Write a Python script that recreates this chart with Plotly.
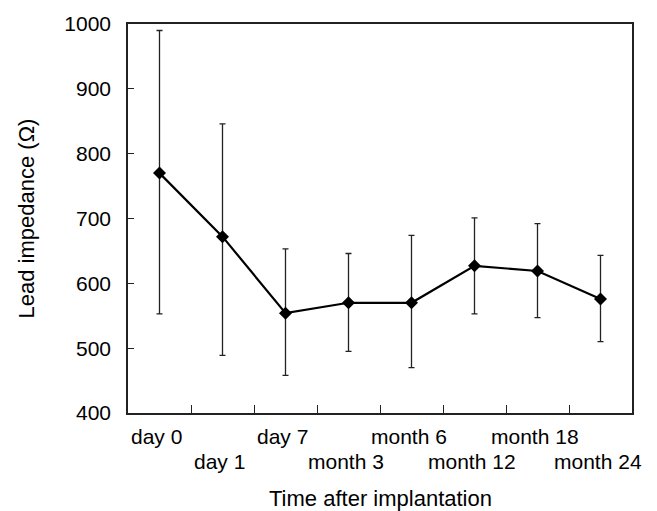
import plotly.graph_objects as go

categories = ["day 0", "day 1", "day 7", "month 3", "month 6", "month 12", "month 18", "month 24"]
means = [770, 672, 554, 570, 570, 627, 619, 576]
upper = [990, 846, 653, 646, 674, 701, 692, 643]
lower = [553, 489, 458, 495, 470, 553, 547, 510]
y_ticks = [400, 500, 600, 700, 800, 900, 1000]

err_plus = [u - m for u, m in zip(upper, means)]
err_minus = [m - l for m, l in zip(means, lower)]

FONT = "Liberation Sans, Arial, sans-serif"

fig = go.Figure()
fig.add_trace(go.Scatter(
    x=categories, y=means, mode="lines+markers",
    line=dict(color="black", width=2.2),
    marker=dict(symbol="diamond", size=10, color="black"),
    error_y=dict(type="data", symmetric=False, array=err_plus, arrayminus=err_minus,
                 color="#222222", thickness=1.3, width=3),
    showlegend=False,
))

# staggered category labels (two rows), placed under each category
for i, cat in enumerate(categories):
    fig.add_annotation(
        x=cat, xref="x", y=0, yref="paper",
        text=cat, showarrow=False, xanchor="center", yanchor="middle",
        yshift=-23 if i % 2 == 0 else -48, xshift=-3,
        font=dict(family=FONT, size=21, color="black"),
    )

# x axis title
fig.add_annotation(
    x=0.5, xref="paper", y=0, yref="paper",
    text="Time after implantation", showarrow=False,
    xanchor="center", yanchor="middle", yshift=-85,
    font=dict(family=FONT, size=22, color="black"),
)

fig.update_layout(
    width=657, height=511,
    margin=dict(l=128, r=25, t=24, b=98),
    paper_bgcolor="white", plot_bgcolor="white",
    font=dict(family=FONT, size=21, color="black"),
    xaxis=dict(
        type="category", automargin=False, categoryorder="array", categoryarray=categories,
        range=[-0.5, len(categories) - 0.5],
        showticklabels=False,
        tickson="boundaries", ticks="inside", ticklen=8, tickcolor="#222222",
        showline=True, linecolor="#222222", linewidth=1.5, mirror=True,
        showgrid=False, zeroline=False,
    ),
    yaxis=dict(
        range=[400, 1000], tickvals=y_ticks, automargin=False,
        ticks="inside", ticklen=6, tickcolor="#222222",
        showline=True, linecolor="#222222", linewidth=1.5, mirror=True,
        showgrid=False, zeroline=False,
        tickfont=dict(size=21), ticklabelstandoff=11,
        title=dict(text="Lead impedance (Ω)", font=dict(size=22), standoff=24),
    ),
)

fig.write_html("out.html")
